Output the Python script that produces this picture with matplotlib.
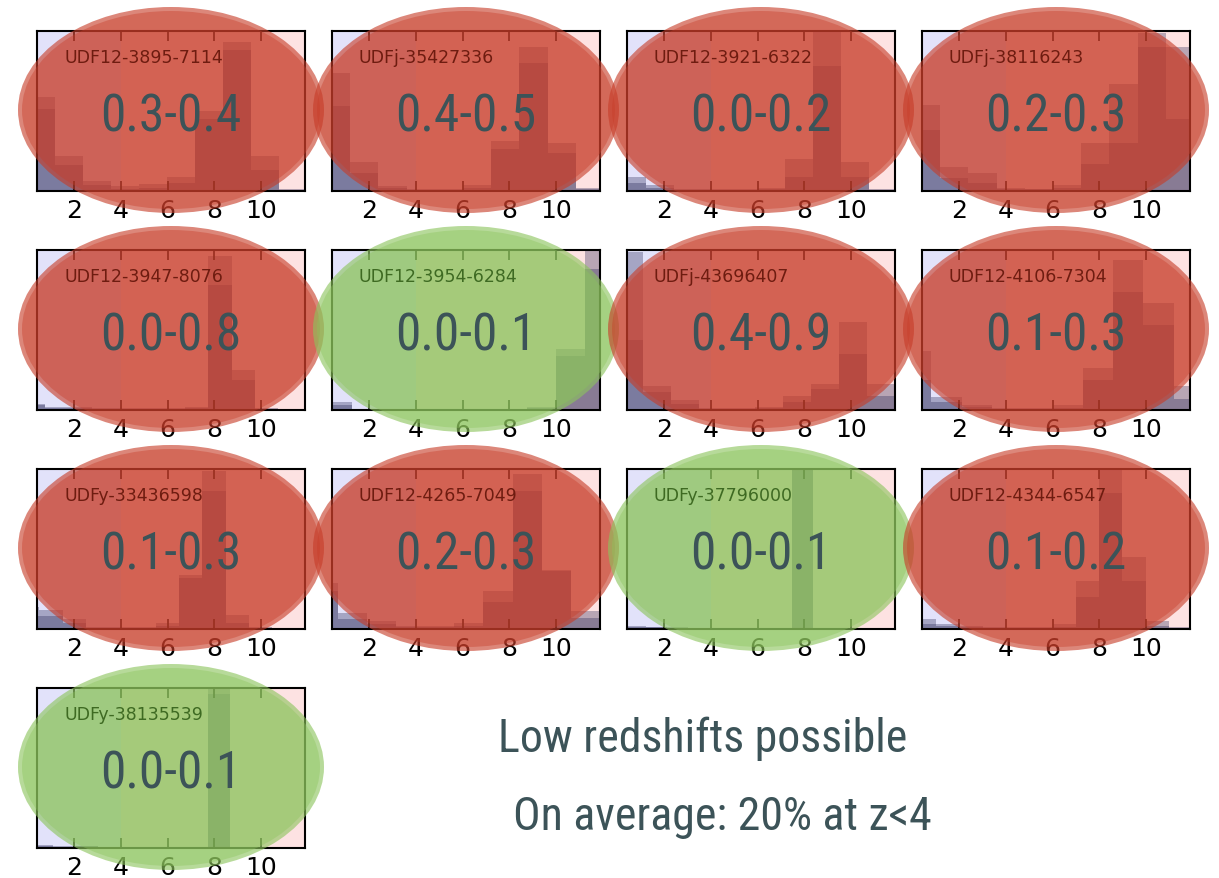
import numpy as np
import matplotlib.pyplot as plt
from matplotlib.patches import Ellipse
from matplotlib import font_manager

# objects, their low-z probability ranges, and which ones the low-z fit can be dropped for
ids = ['UDF12-3895-7114', 'UDFj-35427336', 'UDF12-3921-6322', 'UDFj-38116243',
       'UDF12-3947-8076', 'UDF12-3954-6284', 'UDFj-43696407', 'UDF12-4106-7304',
       'UDFy-33436598', 'UDF12-4265-7049', 'UDFy-37796000', 'UDF12-4344-6547',
       'UDFy-38135539']
ranges = ['0.3-0.4', '0.4-0.5', '0.0-0.2', '0.2-0.3',
          '0.0-0.8', '0.0-0.1', '0.4-0.9', '0.1-0.3',
          '0.1-0.3', '0.2-0.3', '0.0-0.1', '0.1-0.2',
          '0.0-0.1']
safe = [False, False, False, False,
        False, True, False, False,
        False, False, True, False,
        True]

# redshift histogram binning for each object
bin_lo = [-0.02, -0.03, 0.0, -0.03, -0.25, 0.0, -0.1, -0.5, -0.5, -0.6, -0.6, 0.0, 0.15]
bin_w = [1.2, 1.21, 1.2, 1.21, 1.0, 1.25, 1.2, 1.3, 1.0, 1.25, 0.9, 1.0, 0.95]

# two stacked runs of the photo-z distribution (normalised to the peak)
hist_a = [
    [0.59, 0.22, 0.06, 0.03, 0.045, 0.09, 0.5, 0.93, 0.22, 0.01],
    [0.74, 0.18, 0.03, 0.01, 0.01, 0.04, 0.31, 0.9, 0.3, 0.02],
    [0.09, 0.04, 0.01, 0.01, 0.01, 0.02, 0.2, 1.0, 0.18, 0.01],
    [0.54, 0.15, 0.11, 0.02, 0.015, 0.04, 0.3, 0.67, 0.99, 0.9],
    [0.04, 0.02, 0.02, 0.01, 0.01, 0.01, 0.01, 0.02, 0.96, 0.25, 0.01, 0.0],
    [0.05, 0.0, 0.0, 0.0, 0.0, 0.0, 0.0, 0.02, 0.38, 1.0],
    [0.99, 0.15, 0.06, 0.01, 0.01, 0.02, 0.09, 0.16, 0.55, 0.16],
    [0.37, 0.08, 0.03, 0.01, 0.01, 0.03, 0.26, 0.94, 0.67, 0.15],
    [0.14, 0.12, 0.06, 0.01, 0.01, 0.01, 0.04, 0.34, 0.99, 0.09, 0.01, 0.0],
    [0.29, 0.1, 0.05, 0.02, 0.02, 0.04, 0.24, 0.97, 0.37, 0.11],
    [0.0, 0.02, 0.015, 0.01, 0.0, 0.0, 0.0, 0.0, 0.0, 1.0, 0.0, 0.0, 0.0, 0.0],
    [0.06, 0.03, 0.02, 0.01, 0.01, 0.01, 0.03, 0.3, 1.0, 0.45, 0.05, 0.01],
    [0.02, 0.01, 0.01, 0.0, 0.0, 0.0, 0.0, 0.0, 1.0, 0.0, 0.0, 0.0, 0.0],
]
hist_b = [
    [0.51, 0.16, 0.04, 0.01, 0.02, 0.05, 0.45, 0.88, 0.13, 0.0],
    [0.53, 0.11, 0.02, 0.0, 0.0, 0.02, 0.26, 0.8, 0.24, 0.01],
    [0.05, 0.02, 0.0, 0.0, 0.0, 0.01, 0.09, 0.78, 0.09, 0.0],
    [0.38, 0.08, 0.05, 0.01, 0.01, 0.02, 0.17, 0.3, 0.9, 0.45],
    [0.03, 0.01, 0.01, 0.0, 0.0, 0.0, 0.0, 0.01, 0.78, 0.19, 0.0, 0.0],
    [0.03, 0.0, 0.0, 0.0, 0.0, 0.0, 0.0, 0.01, 0.34, 0.88],
    [0.44, 0.11, 0.04, 0.0, 0.0, 0.01, 0.05, 0.13, 0.35, 0.09],
    [0.19, 0.05, 0.02, 0.0, 0.0, 0.01, 0.19, 0.74, 0.53, 0.07],
    [0.08, 0.08, 0.04, 0.0, 0.0, 0.0, 0.02, 0.32, 0.86, 0.04, 0.0, 0.0],
    [0.24, 0.06, 0.03, 0.01, 0.01, 0.02, 0.17, 0.86, 0.36, 0.07],
    [0.0, 0.01, 0.01, 0.0, 0.0, 0.0, 0.0, 0.0, 0.0, 1.0, 0.0, 0.0, 0.0, 0.0],
    [0.03, 0.02, 0.01, 0.0, 0.0, 0.0, 0.01, 0.2, 0.85, 0.3, 0.02, 0.0],
    [0.01, 0.0, 0.01, 0.0, 0.0, 0.0, 0.0, 0.0, 0.96, 0.0, 0.0, 0.0, 0.0],
]
xticks = [2, 4, 6, 8, 10]
notes = ['Low redshifts possible', 'On average: 20% at z<4']

W, H = 1219, 879
col_x = [37, 332, 627, 922]
row_y = [32, 251, 470, 689]
pw, ph = 268, 160

# narrowest sans available for the big labels
avail = {f.name for f in font_manager.fontManager.ttflist}
narrow = next((n for n in ['Noto Sans ExtraCondensed', 'Noto Sans Condensed',
                           'Liberation Sans Narrow', 'Roboto Condensed', 'Open Sans Condensed']
               if n in avail), 'Liberation Sans')
slate = '#3c5358'

fig = plt.figure(figsize=(W / 100, H / 100), dpi=100)

for i in range(len(ids)):
    x0 = col_x[i % 4]
    y0 = row_y[i // 4]
    ax = fig.add_axes([x0 / W, 1 - (y0 + ph) / H, pw / W, ph / H])
    ax.set_xlim(0.4, 11.9)
    ax.set_ylim(0, 1.0)
    ax.axvspan(0.4, 4, color='#e2e2fa', lw=0, zorder=0)
    ax.axvspan(4, 11.9, color='#fde2e2', lw=0, zorder=0)

    edges = bin_lo[i] + bin_w[i] * np.arange(len(hist_a[i]))
    ax.bar(edges, hist_a[i], width=bin_w[i], align='edge', color='#1a1a4a', alpha=0.3, lw=0, zorder=1)
    ax.bar(edges, hist_b[i], width=bin_w[i], align='edge', color='#1a1a4a', alpha=0.3, lw=0, zorder=1)

    ax.set_xticks(xticks)
    ax.set_yticks([])
    ax.tick_params(axis='x', direction='in', top=True, length=7, width=1.2,
                   labelsize=18, pad=5)
    for s in ax.spines.values():
        s.set_linewidth(1.5)

    # big translucent verdict ellipse over the panel
    cx = (x0 + pw / 2) / W
    cy = 1 - (y0 + ph / 2 - 1) / H
    if safe[i]:
        fc, tc = (0.55, 0.77, 0.36), '#3e6a22'
    else:
        fc, tc = (0.78, 0.24, 0.16), '#6e1c10'
    fig.patches.append(Ellipse((cx, cy), 306 / W, 206 / H, transform=fig.transFigure,
                               facecolor=fc, alpha=0.62, lw=0, zorder=2))
    fig.patches.append(Ellipse((cx, cy), 298 / W, 198 / H, transform=fig.transFigure,
                               facecolor=fc, alpha=0.4, lw=0, zorder=2))

    fig.text((x0 + 27) / W, 1 - (y0 + 26) / H, ids[i], fontsize=12.5,
             color=tc, va='center', ha='left', zorder=4)
    fig.text(cx, 1 - (y0 + ph / 2 + 20) / H, ranges[i], fontsize=37, family=narrow,
             color=slate, ha='center', va='baseline', zorder=5)

fig.text(498 / W, 1 - 752 / H, notes[0], fontsize=33, family=narrow,
         color=slate, ha='left', va='baseline')
fig.text(513 / W, 1 - 830 / H, notes[1], fontsize=33, family=narrow,
         color=slate, ha='left', va='baseline')

fig.savefig('out.png', dpi=100, facecolor='white')
